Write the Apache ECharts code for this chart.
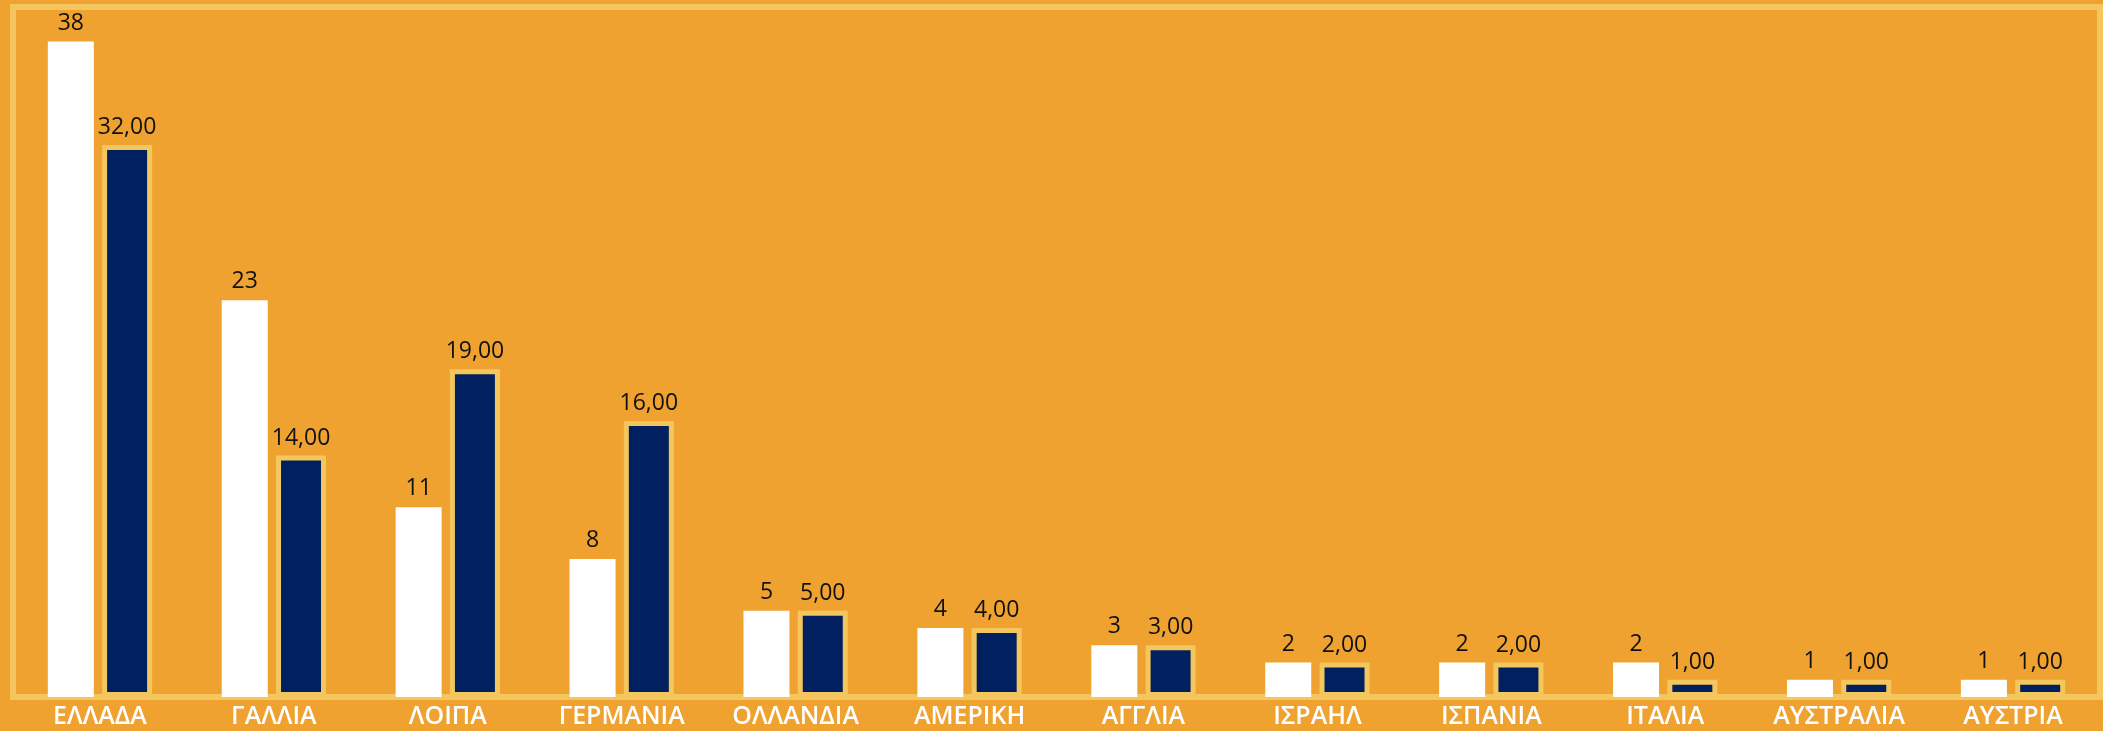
<!DOCTYPE html>
<html><head><meta charset="utf-8">
<script src="https://cdn.jsdelivr.net/npm/echarts@6/dist/echarts.min.js"></script>
<style>html,body{margin:0;padding:0;background:#EFA22F;}#c{width:2103px;height:731px;}</style>
</head><body><div id="c"></div>
<script>
const categories = ['ΕΛΛΑΔΑ','ΓΑΛΛΙΑ','ΛΟΙΠΑ','ΓΕΡΜΑΝΙΑ','ΟΛΛΑΝΔΙΑ','ΑΜΕΡΙΚΗ','ΑΓΓΛΙΑ','ΙΣΡΑΗΛ','ΙΣΠΑΝΙΑ','ΙΤΑΛΙΑ','ΑΥΣΤΡΑΛΙΑ','ΑΥΣΤΡΙΑ'];
const seriesA = [38,23,11,8,5,4,3,2,2,2,1,1];
const seriesB = [32,14,19,16,5,4,3,2,2,1,1,1];

const chart = echarts.init(document.getElementById('c'));
chart.setOption({
  backgroundColor: '#EFA22F',
  animation: false,
  grid: {left: 13, right: 3, top: 7, bottom: 34, show: true, borderColor: '#F3C75D', borderWidth: 6, backgroundColor: 'transparent'},
  xAxis: {
    type: 'category', data: categories,
    axisLine: {show: false}, axisTick: {show: false},
    axisLabel: {color: '#FFFFFF', fontFamily: 'Open Sans', fontSize: 25, fontWeight: 600, margin: 7, interval: 0}
  },
  yAxis: {type: 'value', min: 0, max: 40, show: false, splitLine: {show: false}},
  series: [
    {type: 'bar', data: seriesA, barWidth: 46, barGap: '18%',
     itemStyle: {color: '#FFFFFF'},
     label: {show: true, position: 'top', distance: 7, color: '#111', fontFamily: 'Open Sans', fontSize: 23}},
    {type: 'bar', data: seriesB, barWidth: 50,
     itemStyle: {color: '#00205F', borderColor: '#F3C75D', borderWidth: 5},
     label: {show: true, position: 'top', distance: 6, color: '#111', fontFamily: 'Open Sans', fontSize: 23,
       formatter: p => p.value.toFixed(2).replace('.', ',')}}
  ]
});
</script></body></html>
